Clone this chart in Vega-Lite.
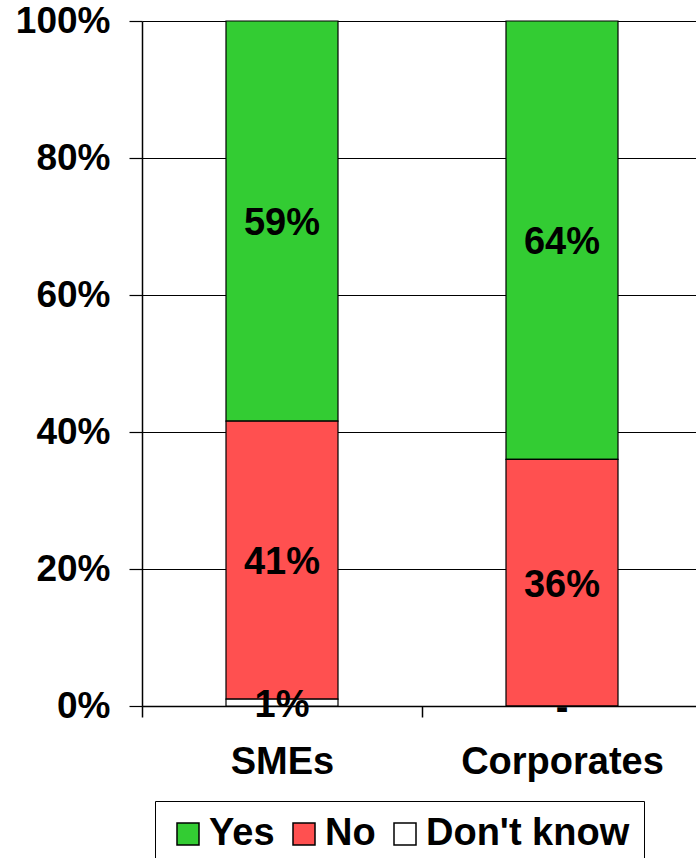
{
  "$schema": "https://vega.github.io/schema/vega-lite/v6.json",
  "autosize": "none",
  "padding": {"left": 142, "top": 21, "right": 0, "bottom": 152},
  "width": 560,
  "height": 685,
  "config": {
    "font": "Liberation Sans",
    "view": {"stroke": null},
    "axis": {"labelFont": "Liberation Sans", "labelFontWeight": "bold", "labelColor": "black", "domainColor": "black", "tickColor": "black", "gridColor": "black", "gridOpacity": 1, "labelLimit": 0},
    "legend": {"labelFont": "Liberation Sans", "strokeColor": "black", "fillColor": "white", "padding": 14, "labelLimit": 0}
  },
  "data": {
    "values": [
      {"cat": "SMEs", "resp": "Yes", "value": 59, "label": "59%", "ord": 3},
      {"cat": "SMEs", "resp": "No", "value": 41, "label": "41%", "ord": 2},
      {"cat": "SMEs", "resp": "Don't know", "value": 1, "label": "1%", "ord": 1},
      {"cat": "Corporates", "resp": "Yes", "value": 64, "label": "64%", "ord": 3},
      {"cat": "Corporates", "resp": "No", "value": 36, "label": "36%", "ord": 2},
      {"cat": "Corporates", "resp": "Don't know", "value": 0, "label": "-", "ord": 1}
    ]
  },
  "encoding": {
    "x": {
      "field": "cat", "type": "nominal", "sort": ["SMEs", "Corporates"],
      "scale": {"paddingInner": 0, "paddingOuter": 0},
      "axis": {"title": null, "labelAngle": 0, "labelFontSize": 38, "tickBand": "extent", "tickSize": 11, "labelPadding": 26, "domainWidth": 1.5, "tickWidth": 1.5}
    },
    "order": {"field": "ord", "type": "quantitative"}
  },
  "layer": [
    {
      "mark": {"type": "bar", "width": {"band": 0.4}, "stroke": "black", "strokeWidth": 1.2},
      "encoding": {
        "y": {
          "field": "value", "type": "quantitative", "stack": "normalize",
          "scale": {"domain": [0, 1], "nice": false},
          "axis": {"title": null, "format": "%", "values": [0, 0.2, 0.4, 0.6, 0.8, 1], "labelFontSize": 37, "tickSize": 13, "labelPadding": 19, "grid": true, "gridWidth": 1.2, "domainWidth": 1.5, "tickWidth": 1.2}
        },
        "color": {
          "field": "resp", "type": "nominal",
          "scale": {"domain": ["Yes", "No", "Don't know"], "range": ["#33CC33", "#FF5050", "#FFFFFF"]},
          "legend": {
            "title": null, "orient": "none", "legendX": 13, "legendY": 780, "direction": "horizontal",
            "symbolType": "square", "symbolSize": 484, "symbolStrokeColor": "black", "symbolStrokeWidth": 1.5,
            "labelFontSize": 38, "labelFontWeight": "bold", "labelColor": "black", "labelOffset": 2,
            "columnPadding": 10
          }
        }
      }
    },
    {
      "mark": {"type": "text", "fontSize": 38, "fontWeight": "bold", "baseline": "middle", "align": "center", "color": "black", "dy": 3},
      "encoding": {
        "y": {"field": "value", "type": "quantitative", "stack": "normalize", "bandPosition": 0.5},
        "detail": {"field": "resp"},
        "text": {"field": "label"}
      }
    }
  ]
}
